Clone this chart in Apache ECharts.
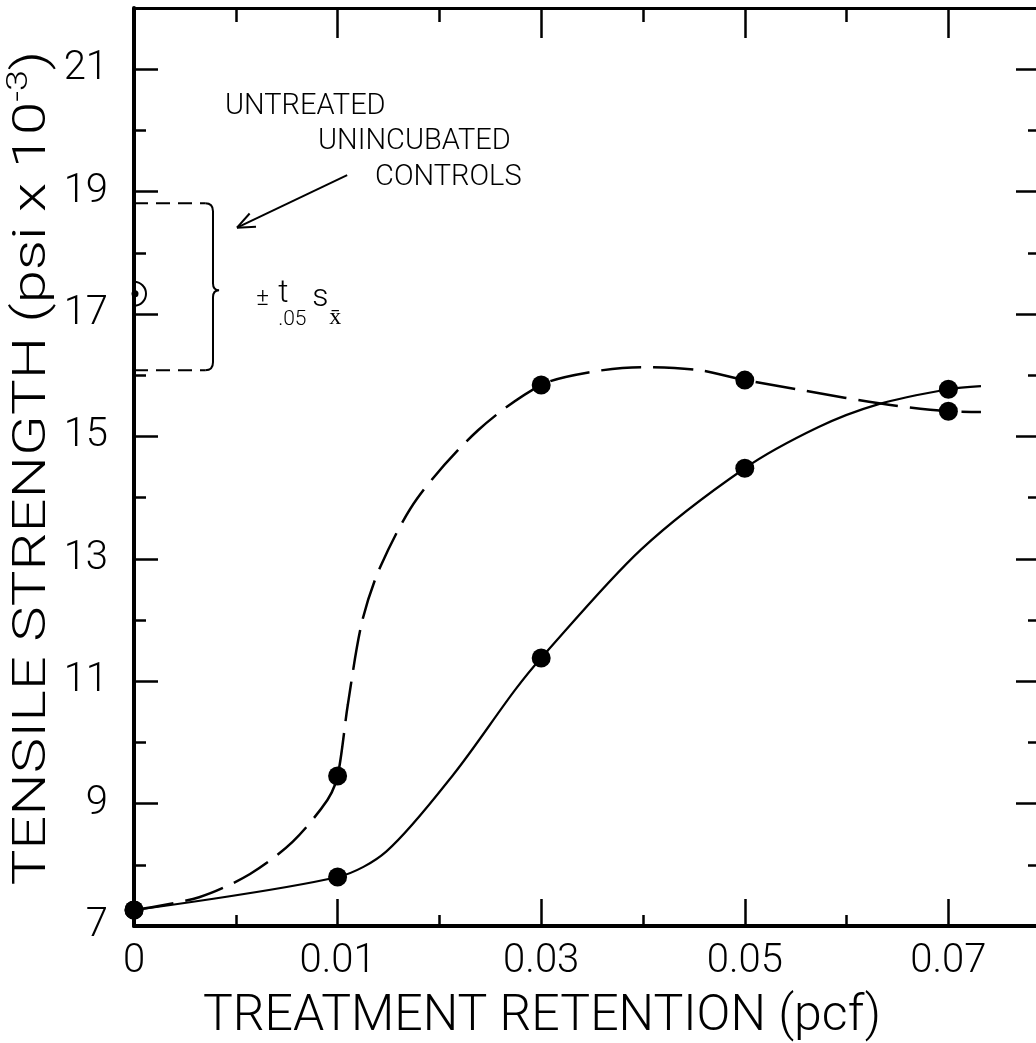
<!DOCTYPE html>
<html>
<head>
<meta charset="utf-8">
<script src="https://cdn.jsdelivr.net/npm/echarts@6/dist/echarts.min.js"></script>
<style>
  html, body { margin: 0; background: #fff; }
  #chart { width: 1036px; height: 1043px; }
</style>
</head>
<body>
<div id="chart"></div>
<script>
// retention levels are drawn evenly spaced, as in the original figure
var xLabels = ["0", "0.01", "0.03", "0.05", "0.07"];
var xPos = [0, 1, 2, 3, 4];
var solidValues = [7.26, 7.80, 11.38, 14.48, 15.77];
var dashedValues = [7.26, 9.45, 15.84, 15.92, 15.41];

// the hand-drawn curves
var solidCurveX = [0, 1.0, 1.24, 1.57, 1.87, 2.0, 2.49, 3.0, 3.36, 3.65, 4.0, 4.16];
var solidCurveY = [7.26, 7.80, 8.22, 9.48, 10.85, 11.38, 13.15, 14.48, 15.15, 15.52, 15.77, 15.82];
var dashedCurveX = [0, 0.32, 0.57, 0.78, 0.95, 1.0, 1.05, 1.12, 1.21, 1.39, 1.69, 2.0, 2.24, 2.49, 2.78, 3.0, 4.0, 4.16];
var dashedCurveY = [7.26, 7.47, 7.85, 8.38, 9.06, 9.45, 10.61, 11.97, 12.87, 13.98, 15.10, 15.84, 16.05, 16.13, 16.08, 15.92, 15.41, 15.40];

// untreated, unincubated controls
var controlMean = 17.33;
var controlLimits = [16.08, 18.81];
var braceTip = 17.39;

var FONT = "Roboto";
var INK = "#000";

function pairs(xs, ys) {
  return xs.map(function (x, i) { return [x, ys[i]]; });
}

function txt(x, y, s, size) {
  return {
    type: "text", x: x, y: y,
    style: {
      text: s, fontSize: size, fontFamily: FONT, fontWeight: 300, fill: INK,
      align: "left", verticalAlign: "middle"
    }
  };
}

function renderControls(params, api) {
  var p = function (x, y) { return api.coord([x, y]); };
  var m = p(0, controlMean);
  var yT = p(0, controlLimits[1])[1];
  var yB = p(0, controlLimits[0])[1];
  var yM = p(0, braceTip)[1];
  var x0 = p(0, 0)[0];
  var xd = p(0.35, 0)[0], xb = p(0.388, 0)[0], xt = p(0.418, 0)[0];
  var d = "M" + xd + "," + yT + " Q" + xb + "," + yT + " " + xb + "," + (yT + 8) +
    " L" + xb + "," + (yM - 7) + " Q" + xb + "," + yM + " " + xt + "," + yM +
    " Q" + xb + "," + yM + " " + xb + "," + (yM + 7) +
    " L" + xb + "," + (yB - 8) + " Q" + xb + "," + yB + " " + xd + "," + yB;

  var tail = p(1.047, 19.27), tip = p(0.506, 18.41);
  var ang = Math.atan2(tail[1] - tip[1], tail[0] - tip[0]);
  var head = [0.4, -0.4].map(function (da) {
    return {
      type: "line",
      shape: { x1: tip[0], y1: tip[1], x2: tip[0] + 19 * Math.cos(ang + da), y2: tip[1] + 19 * Math.sin(ang + da) },
      style: { stroke: INK, lineWidth: 2 }
    };
  });

  var lab = p(0.595, 17.35);
  var t1 = p(0.447, 20.38), t2 = p(0.904, 19.81), t3 = p(1.184, 19.22);

  return {
    type: "group",
    children: [
      { type: "arc", shape: { cx: m[0], cy: m[1], r: 12, startAngle: -Math.PI / 2, endAngle: Math.PI / 2 },
        style: { stroke: INK, fill: null, lineWidth: 2 } },
      { type: "circle", shape: { cx: m[0] + 1, cy: m[1], r: 3.5 }, style: { fill: INK } },
      { type: "line", shape: { x1: x0, y1: yT, x2: xd, y2: yT }, style: { stroke: INK, lineWidth: 2, lineDash: [14, 8] } },
      { type: "line", shape: { x1: x0, y1: yB, x2: xd, y2: yB }, style: { stroke: INK, lineWidth: 2, lineDash: [14, 8] } },
      { type: "path", shape: { pathData: d }, style: { stroke: INK, fill: null, lineWidth: 2 } },
      { type: "line", shape: { x1: tail[0], y1: tail[1], x2: tip[0], y2: tip[1] }, style: { stroke: INK, lineWidth: 2 } }
    ].concat(head).concat([
      txt(t1[0], t1[1], "UNTREATED", 29),
      txt(t2[0], t2[1], "UNINCUBATED", 29),
      txt(t3[0], t3[1], "CONTROLS", 29),
      txt(lab[0] + 1, lab[1] + 6, "±", 24),
      txt(lab[0] + 23, lab[1] + 1, "t", 32),
      txt(lab[0] + 23, lab[1] + 27, ".05", 21),
      txt(lab[0] + 57, lab[1] + 5, "s", 32),
      txt(lab[0] + 74, lab[1] + 25, "x\u0304", 24)
    ])
  };
}

function xAxisDef(pos, interval, len, major) {
  return {
    type: "value", position: pos, min: 0, max: 4.45, interval: interval,
    axisLine: { show: major, onZero: false, lineStyle: { color: INK, width: pos === "bottom" ? 4 : 3 } },
    axisTick: { inside: true, length: len, lineStyle: { color: INK, width: 2.5 } },
    axisLabel: { show: false },
    splitLine: { show: false }
  };
}

function yAxisDef(pos, interval, len, major) {
  return {
    type: "value", position: pos, min: 7, max: 22, interval: interval,
    axisLine: { show: major, onZero: false, lineStyle: { color: INK, width: 4 } },
    axisTick: { inside: true, length: len, lineStyle: { color: INK, width: 2.5 } },
    axisLabel: { show: false },
    splitLine: { show: false }
  };
}

var xMain = xAxisDef("bottom", 1, 27, true);
xMain.axisLabel = {
  show: true, showMaxLabel: false, margin: 16, color: INK,
  fontFamily: FONT, fontWeight: 300, fontSize: 40,
  formatter: function (v) { return Number.isInteger(v) && xLabels[v] !== undefined ? xLabels[v] : ""; }
};
xMain.name = "TREATMENT RETENTION (pcf)";
xMain.nameLocation = "middle";
xMain.nameGap = 66;
xMain.nameTextStyle = { color: INK, fontFamily: FONT, fontWeight: 300, fontSize: 50, padding: [0, 90, 0, 0] };

var yMain = yAxisDef("left", 2, 24, true);
yMain.axisLabel = {
  show: true, showMaxLabel: false, margin: 26, color: INK,
  fontFamily: FONT, fontWeight: 300, fontSize: 40,
  formatter: function (v) { return v % 2 === 1 ? String(v) : ""; }
};

var chart = echarts.init(document.getElementById("chart"), null, { renderer: "canvas" });
chart.setOption({
  animation: false,
  backgroundColor: "#fff",
  grid: { left: 134, right: -4, top: 8, bottom: 117, containLabel: false, outerBoundsMode: "none" },
  xAxis: [
    xMain,
    xAxisDef("bottom", 0.5, 11, false),
    xAxisDef("top", 1, 30, true),
    xAxisDef("top", 0.5, 14, false)
  ],
  yAxis: [
    yMain,
    yAxisDef("left", 1, 12, false),
    yAxisDef("right", 2, 24, true),
    yAxisDef("right", 1, 12, false)
  ],
  // y title: the original lettering is wide, so it is stretched along its length
  graphic: [{
    type: "text", x: 33, y: 468, rotation: Math.PI / 2, scaleX: 1.3,
    style: {
      text: "{a|TENSILE STRENGTH (psi x 10}{b|-3}{a|)}",
      align: "center", verticalAlign: "middle",
      rich: {
        a: { fill: INK, fontFamily: FONT, fontWeight: 300, fontSize: 46, lineHeight: 56 },
        b: { fill: INK, fontFamily: FONT, fontWeight: 300, fontSize: 29, lineHeight: 29, verticalAlign: "top" }
      }
    }
  }],
  series: [
    {
      name: "solid curve", type: "line", smooth: 0.3, symbol: "none",
      data: pairs(solidCurveX, solidCurveY),
      lineStyle: { color: INK, width: 2.2 }
    },
    {
      name: "dashed curve", type: "line", smooth: 0.3, symbol: "none",
      data: pairs(dashedCurveX, dashedCurveY),
      lineStyle: { color: INK, width: 2.5, type: [40, 12] }
    },
    {
      name: "solid points", type: "scatter", symbol: "circle", symbolSize: 19,
      data: pairs(xPos, solidValues), itemStyle: { color: INK, opacity: 1 }, z: 5
    },
    {
      name: "dashed points", type: "scatter", symbol: "circle", symbolSize: 19,
      data: pairs(xPos, dashedValues), itemStyle: { color: INK, opacity: 1 }, z: 5
    },
    {
      name: "controls", type: "custom", renderItem: renderControls,
      data: [[0, controlMean]], encode: { x: 0, y: 1 }, clip: false, silent: true, z: 6
    }
  ]
});
</script>
</body>
</html>
